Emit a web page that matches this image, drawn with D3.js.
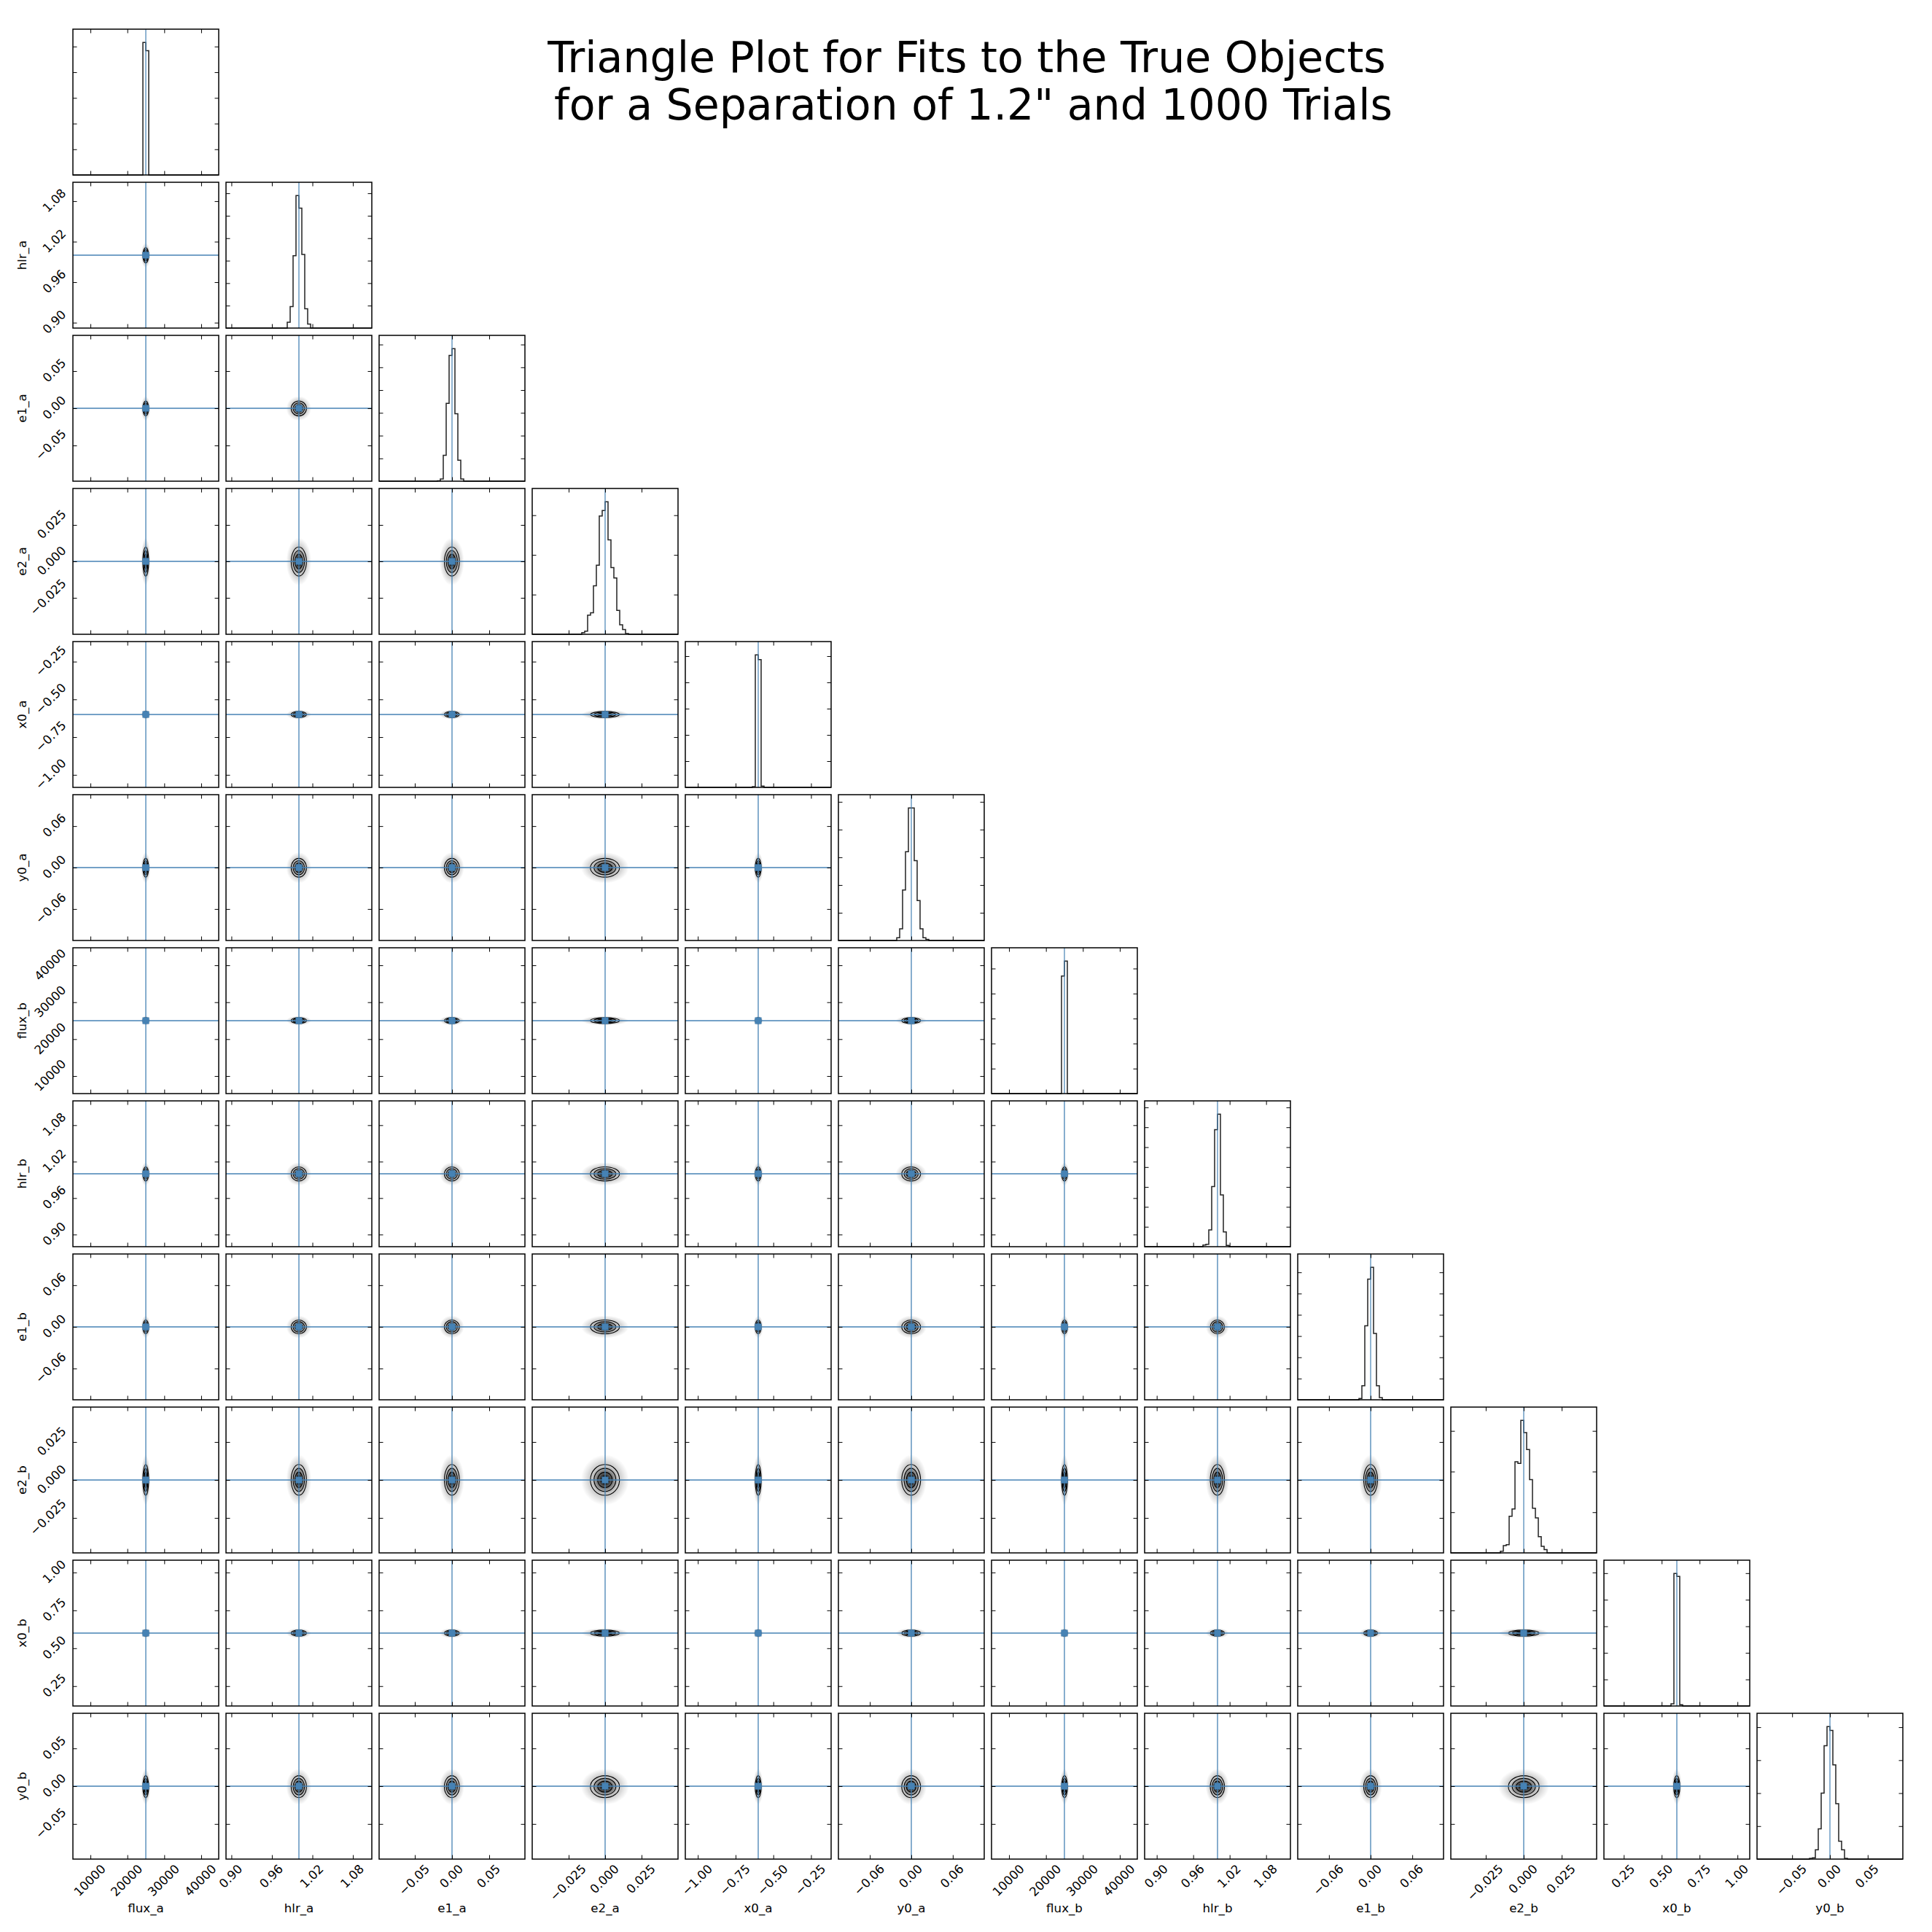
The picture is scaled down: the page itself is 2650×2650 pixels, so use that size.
<!DOCTYPE html>
<html>
<head>
<meta charset="utf-8">
<script src="https://cdn.jsdelivr.net/npm/d3@7"></script>
<style>
  body { margin: 0; background: #fff; }
  svg { display: block; }
  text { font-family: "DejaVu Sans", sans-serif; fill: #000; }
</style>
</head>
<body>
<svg id="chart" width="2650" height="2650"></svg>
<script>
(function () {
// ---------------- data ----------------
const labels = ["flux_a", "hlr_a", "e1_a", "e2_a", "x0_a", "y0_a",
                "flux_b", "hlr_b", "e1_b", "e2_b", "x0_b", "y0_b"];
const truths = [25000, 1.0, 0.0, 0.0, -0.6, 0.0, 25000, 1.0, 0.0, 0.0, 0.6, 0.0];
const rangeLo = [5250, 0.892, -0.098, -0.050, -1.083, -0.1055, 5250, 0.880, -0.105, -0.048, 0.119, -0.0965];
const rangeHi = [44750, 1.108, 0.098, 0.050, -0.117, 0.1055, 44750, 1.120, 0.105, 0.048, 1.081, 0.0965];

const tickValues = [
  [10000, 20000, 30000, 40000],
  [0.90, 0.96, 1.02, 1.08],
  [-0.05, 0.00, 0.05],
  [-0.025, 0.000, 0.025],
  [-1.00, -0.75, -0.50, -0.25],
  [-0.06, 0.00, 0.06],
  [10000, 20000, 30000, 40000],
  [0.90, 0.96, 1.02, 1.08],
  [-0.06, 0.00, 0.06],
  [-0.025, 0.000, 0.025],
  [0.25, 0.50, 0.75, 1.00],
  [-0.05, 0.00, 0.05]
];
const tickLabels = [
  ["10000", "20000", "30000", "40000"],
  ["0.90", "0.96", "1.02", "1.08"],
  ["\u22120.05", "0.00", "0.05"],
  ["\u22120.025", "0.000", "0.025"],
  ["\u22121.00", "\u22120.75", "\u22120.50", "\u22120.25"],
  ["\u22120.06", "0.00", "0.06"],
  ["10000", "20000", "30000", "40000"],
  ["0.90", "0.96", "1.02", "1.08"],
  ["\u22120.06", "0.00", "0.06"],
  ["\u22120.025", "0.000", "0.025"],
  ["0.25", "0.50", "0.75", "1.00"],
  ["\u22120.05", "0.00", "0.05"]
];

// histograms: 50 equal bins across each range; counts listed from the first non-empty bin
const nBins = 50;
const histFirstBin = [24, 21, 20, 17, 23, 20, 24, 20, 21, 17, 23, 18];
const histCounts = [
  [516, 484],
  [13, 48, 161, 295, 267, 164, 43, 9],
  [1, 5, 57, 171, 276, 291, 148, 46, 5],
  [2, 4, 24, 27, 61, 87, 149, 156, 167, 119, 84, 71, 30, 12, 6, 1],
  [3, 505, 487, 5],
  [5, 21, 91, 160, 239, 239, 144, 72, 21, 5, 2],
  [470, 530],
  [4, 6, 42, 151, 294, 333, 130, 37, 3],
  [3, 33, 174, 284, 312, 156, 33, 5],
  [2, 9, 10, 45, 54, 112, 110, 163, 148, 127, 90, 55, 43, 20, 8, 4],
  [8, 499, 488, 5],
  [1, 2, 14, 46, 100, 172, 201, 195, 143, 84, 27, 14, 1]
];
const histTickStep = [100, 50, 50, 50, 100, 50, 100, 50, 50, 50, 100, 50];

const titleLines = ["Triangle Plot for Fits to the True Objects",
                    "for a Separation of 1.2\" and 1000 Trials"];

// ---------------- layout ----------------
const W = 2650, K = labels.length;
const marginL = 100, marginT = 40, size = 200, gap = 10;
const fs = 16.67, pad = 5.6, tickLen = 5.5;
const truthColor = "#4682b4";

const svg = d3.select("#chart");
svg.append("rect").attr("width", W).attr("height", W).attr("fill", "#fff");

const defs = svg.append("defs");
const fillGrad = defs.append("radialGradient").attr("id", "blobFill");
[[0, "#000000"], [0.25, "#262626"], [0.5, "#6a6a6a"], [0.75, "#acacac"], [1, "#d8d8d8"]]
  .forEach(([o, c]) => fillGrad.append("stop").attr("offset", o).attr("stop-color", c));
const haloGrad = defs.append("radialGradient").attr("id", "blobHalo");
[[0, 0.5], [0.6, 0.4], [0.8, 0.18], [1, 0]]
  .forEach(([o, a]) => haloGrad.append("stop").attr("offset", o)
    .attr("stop-color", "#777777").attr("stop-opacity", a));

const xScales = labels.map((_, i) => d3.scaleLinear().domain([rangeLo[i], rangeHi[i]]).range([0, size]));
const yScales = labels.map((_, i) => d3.scaleLinear().domain([rangeLo[i], rangeHi[i]]).range([size, 0]));

const fullCounts = labels.map((_, i) => {
  const arr = new Array(nBins).fill(0);
  histCounts[i].forEach((c, k) => { arr[histFirstBin[i] + k] = c; });
  return arr;
});
const stats = labels.map((_, i) => {
  const bw = (rangeHi[i] - rangeLo[i]) / nBins;
  const centers = fullCounts[i].map((c, k) => rangeLo[i] + (k + 0.5) * bw);
  const n = d3.sum(fullCounts[i]);
  const mean = d3.sum(fullCounts[i], (c, k) => c * centers[k]) / n;
  const sd = Math.sqrt(d3.sum(fullCounts[i], (c, k) => c * (centers[k] - mean) ** 2) / n);
  return { mean, sd, bw };
});

function drawTicks(g, xScale, xVals, yScale, yVals) {
  const ax = [
    [d3.axisBottom(xScale).tickValues(xVals), `translate(0,${size})`],
    [d3.axisTop(xScale).tickValues(xVals), null],
    [d3.axisLeft(yScale).tickValues(yVals), null],
    [d3.axisRight(yScale).tickValues(yVals), `translate(${size},0)`]
  ];
  ax.forEach(([a, tr]) => {
    const gg = g.append("g").call(a.tickSize(-tickLen).tickFormat(""));
    if (tr) gg.attr("transform", tr);
    gg.select(".domain").remove();
    gg.selectAll("line").attr("stroke", "#000").attr("stroke-width", 1);
  });
}

function tickLabel(g, x, y, str, mode) {
  const t = g.append("text").attr("font-size", fs).attr("text-anchor", "middle")
    .attr("y", 0.262 * fs).text(str);
  const w = t.node().getComputedTextLength();
  const B = (w + 0.996 * fs) * Math.SQRT1_2;
  let cx, cy;
  if (mode === "x") { cx = x; cy = y + pad + B / 2; }
  else { cx = x - pad - B / 2; cy = y; }
  t.attr("transform", `translate(${cx},${cy}) rotate(-45)`);
}

for (let i = 0; i < K; i++) {
  for (let j = 0; j <= i; j++) {
    const g = svg.append("g")
      .attr("transform", `translate(${marginL + j * (size + gap)},${marginT + i * (size + gap)})`);
    const xs = xScales[j];

    if (i === j) {
      const maxC = d3.max(fullCounts[i]);
      const hy = d3.scaleLinear().domain([0, 1.1 * maxC]).range([size, 0]);
      const bw = stats[i].bw;
      const pts = [[rangeLo[i], 0]];
      fullCounts[i].forEach((c, k) => {
        pts.push([rangeLo[i] + k * bw, c]);
        pts.push([rangeLo[i] + (k + 1) * bw, c]);
      });
      pts.push([rangeHi[i], 0]);
      const line = d3.line().x(d => xs(d[0])).y(d => hy(d[1]));
      g.append("path").attr("d", line(pts)).attr("fill", "none")
        .attr("stroke", "#222").attr("stroke-width", 1.5).attr("stroke-linejoin", "miter");
      g.append("line").attr("x1", xs(truths[i])).attr("x2", xs(truths[i]))
        .attr("y1", 0).attr("y2", size).attr("stroke", truthColor).attr("stroke-width", 1.2);
      const yt = d3.range(histTickStep[i], 1.1 * maxC, histTickStep[i]);
      drawTicks(g, xs, tickValues[j], hy, yt);
    } else {
      const ys = yScales[i];
      const cx = xs(stats[j].mean), cy = ys(stats[i].mean);
      const sx = Math.abs(xs(stats[j].mean + stats[j].sd) - cx);
      const sy = Math.abs(ys(stats[i].mean + stats[i].sd) - cy);
      g.append("ellipse").attr("cx", cx).attr("cy", cy)
        .attr("rx", 3.3 * sx).attr("ry", 3.3 * sy).attr("fill", "url(#blobHalo)");
      g.append("ellipse").attr("cx", cx).attr("cy", cy)
        .attr("rx", 2 * sx).attr("ry", 2 * sy).attr("fill", "url(#blobFill)");
      [0.5, 1, 1.5, 2].forEach(k => {
        g.append("ellipse").attr("cx", cx).attr("cy", cy)
          .attr("rx", k * sx).attr("ry", k * sy)
          .attr("fill", "none").attr("stroke", "#000").attr("stroke-width", 1.1);
      });
      g.append("line").attr("x1", xs(truths[j])).attr("x2", xs(truths[j]))
        .attr("y1", 0).attr("y2", size).attr("stroke", truthColor).attr("stroke-width", 1.3);
      g.append("line").attr("x1", 0).attr("x2", size)
        .attr("y1", ys(truths[i])).attr("y2", ys(truths[i]))
        .attr("stroke", truthColor).attr("stroke-width", 1.3);
      const m = 8.4;
      g.append("rect").attr("x", xs(truths[j]) - m / 2).attr("y", ys(truths[i]) - m / 2)
        .attr("width", m).attr("height", m).attr("fill", truthColor)
        .attr("stroke", truthColor).attr("stroke-width", 0.6);
      drawTicks(g, xs, tickValues[j], ys, tickValues[i]);
    }

    g.append("rect").attr("x", 0).attr("y", 0).attr("width", size).attr("height", size)
      .attr("fill", "none").attr("stroke", "#000").attr("stroke-width", 1.5);

    if (i === K - 1) {
      tickValues[j].forEach((v, k) => tickLabel(g, xs(v), size, tickLabels[j][k], "x"));
    }
    if (j === 0 && i > 0) {
      tickValues[i].forEach((v, k) => tickLabel(g, 0, yScales[i](v), tickLabels[i][k], "y"));
    }
  }
}

labels.forEach((lab, j) => {
  svg.append("text").attr("font-size", fs).attr("text-anchor", "middle")
    .attr("x", marginL + j * (size + gap) + size / 2)
    .attr("y", marginT + K * size + (K - 1) * gap + 0.3 * size + 0.76 * fs)
    .text(lab);
});
labels.forEach((lab, i) => {
  if (i === 0) return;
  const cy = marginT + i * (size + gap) + size / 2;
  svg.append("text").attr("font-size", fs).attr("text-anchor", "middle")
    .attr("transform", `translate(${marginL - 0.3 * size - 0.236 * fs},${cy}) rotate(-90)`)
    .text(lab);
});

titleLines.forEach((t, k) => {
  svg.append("text").attr("font-size", 58.5).attr("text-anchor", "middle")
    .attr("x", k === 0 ? 1326 : 1335).attr("y", 98.5 + k * 65.5)
    .text(t);
});
})();
</script>
</body>
</html>
